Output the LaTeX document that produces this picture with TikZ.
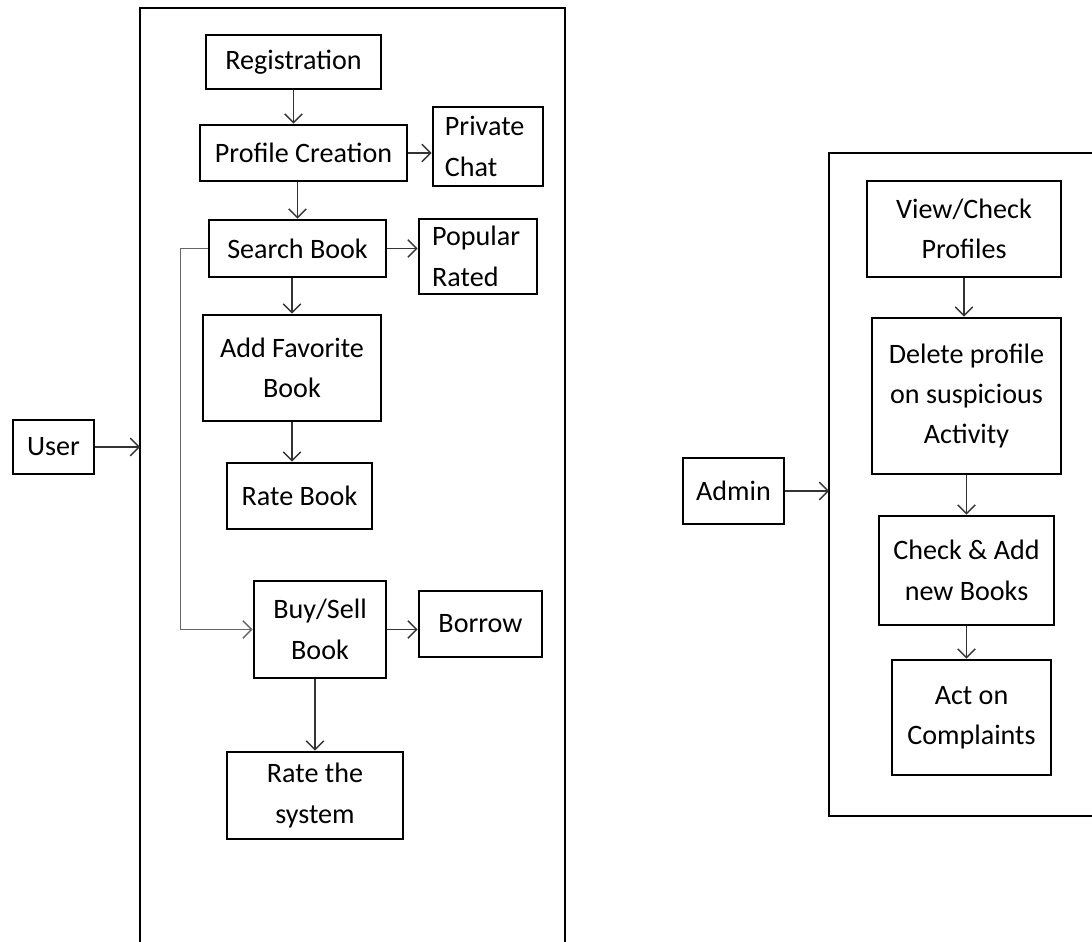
\documentclass[tikz,border=0pt]{standalone}
\usepackage{fontspec}
\setmainfont{Carlito}
\usetikzlibrary{arrows.meta}

\begin{document}
\begin{tikzpicture}[x=0.02cm, y=-0.02cm,
    font=\fontsize{16}{23}\selectfont,
    box/.style 2 args={rectangle, draw, line width=1.5pt, inner sep=0pt,
      align=center, minimum width=#1*0.02cm, minimum height=#2*0.02cm},
    arr/.style={-{Straight Barb[length=5pt,width=10pt]}, line width=0.8pt, black!80},
    frame/.style={line width=1.6pt}
    ]
    \useasboundingbox (0,0) rectangle (1092,942);

    % user side
    \draw[frame] (140,950) -- (140,8) -- (565,8) -- (565,950);
    \coordinate (userin) at (140,447);
    \node[box={81}{54}] (user) at (53.5,447) {User};
    \node[box={175}{54}] (reg) at (293.5,62) {Registration};
    \node[box={207}{56}] (prof) at (303.5,153) {Profile Creation};
    \node[box={110}{79}, align=left] (chat) at (488,146.5) {Private\\Chat\hspace*{1.2em}};
    \node[box={177}{57}] (search) at (297.5,248.5) {Search Book};
    \node[box={118}{75}, align=left] (popular) at (478,256.5) {Popular\\Rated\hspace*{0.9em}};
    \node[box={178}{106}] (fav) at (292,368) {Add Favorite\\Book};
    \node[box={145}{66}] (rate) at (299.5,496) {Rate Book};
    \node[box={132}{97}] (buy) at (320,629.5) {Buy/Sell\\Book};
    \node[box={123}{66}] (borrow) at (480.5,624) {Borrow};
    \node[box={176}{87}] (system) at (315,795.5) {Rate the\\system};

    \draw[arr] (user.east) -- (userin);
    \draw[arr] (reg.south) -- (reg.south |- prof.north);
    \draw[arr] (search.north |- prof.south) -- (search.north);
    \draw[arr] (search.south -| fav.north) -- (fav.north);
    \draw[arr] (fav.south) -- (fav.south |- rate.north);
    \draw[arr] (prof.east) -- (prof.east -| chat.west);
    \draw[arr] (search.east) -- (search.east -| popular.west);
    \draw[arr] (buy.east) -- (buy.east -| borrow.west);
    \draw[arr] (buy.south -| system.north) -- (system.north);
    \draw[arr, black!60] (search.west) -- ++(-27,0) |- (buy.west);

    % admin side
    \draw[frame] (1100,153) -- (829,153) -- (829,816) -- (1100,816);
    \coordinate (adminin) at (829,491);
    \node[box={101}{66}] (admin) at (733.5,491) {Admin};
    \node[box={194}{96}] (view) at (964,229) {View/Check\\Profiles};
    \node[box={189}{156}] (delete) at (966.5,396) {Delete profile\\on suspicious\\Activity};
    \node[box={175}{109}] (check) at (966.5,570.5) {Check \& Add\\new Books};
    \node[box={159}{115}] (act) at (971.5,717.5) {Act on\\Complaints};

    \draw[arr] (admin.east) -- (adminin);
    \draw[arr] (view.south) -- (view.south |- delete.north);
    \draw[arr] (delete.south) -- (delete.south |- check.north);
    \draw[arr] (check.south) -- (check.south |- act.north);
  \end{tikzpicture}
\end{document}
